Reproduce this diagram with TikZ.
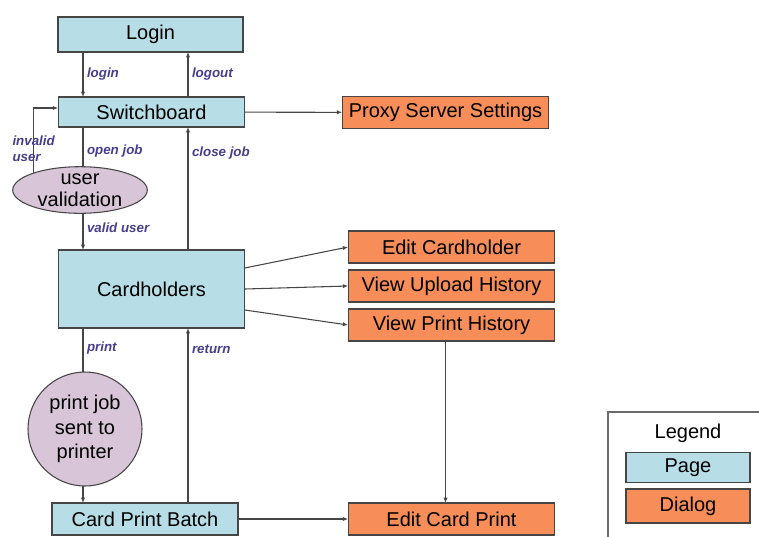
\documentclass[tikz,border=0pt]{standalone}
\usepackage{fontspec}
\setmainfont{Liberation Sans}
\usepackage{tikz}
\usetikzlibrary{positioning,shapes,arrows.meta}
\definecolor{pagefill}{RGB}{183,222,230}
\definecolor{dlgfill}{RGB}{247,141,88}
\definecolor{procfill}{RGB}{216,198,216}
\definecolor{lblcol}{RGB}{72,62,140}
\definecolor{edge}{RGB}{70,70,70}

\begin{document}
\begin{tikzpicture}[x=0.75pt,y=-0.75pt,outer sep=0pt,
  pageA/.style={
    draw=edge,
    line width=0.8pt,
    fill=pagefill,
    font={\fontsize{15pt}{18pt}\selectfont},
    align=center,
    minimum width=140pt,
    minimum height=24pt,
    inner sep=0pt,
    },
  dialogA/.style={pageA,fill=dlgfill,minimum width=155pt},
  procA/.style={pageA,ellipse,fill=procfill,minimum width=0pt,minimum height=0pt},
  legendA/.style={font={\fontsize{15pt}{18pt}\selectfont},minimum width=93pt},
  lbl/.style={font={\fontsize{10pt}{12pt}\selectfont\bfseries\itshape},text=lblcol,inner sep=3pt,align=left},
  arr/.style={draw=edge,line width=0.8pt,-{Latex[length=4pt,width=3.2pt]}},
  ln/.style={draw=edge,line width=0.8pt},
  ]

  \useasboundingbox (0,0) rectangle (759,536);

  \coordinate (lx) at (83,0);
  \coordinate (rx) at (188,0);

  \node[pageA, minimum width=138.75pt, minimum height=26.25pt] (login) at (150.5,34.5) {Login};
  \node[pageA, minimum height=22.5pt] (switch) at (151.5,112) {Switchboard};
  \node[dialogA] (proxy) at (445.5,112.5) {Proxy Server Settings};
  \coordinate (swin) at ([yshift=3pt]switch.west);

  \node[procA, inner xsep=4pt, inner ysep=0pt, font={\fontsize{15pt}{16.5pt}\selectfont}] (uval) at (80,190) {user\\validation};

  \node[pageA, minimum height=58.5pt] (chold) at (151.5,289) {Cardholders};
  \node[dialogA] (edch) at (451.5,247) {Edit Cardholder};
  \node[dialogA] (vupl) at (451.5,286) {View Upload History};
  \node[dialogA] (vprt) at (451.5,325) {View Print History};

  \node[procA, circle, minimum size=85.5pt, font={\fontsize{15pt}{18.5pt}\selectfont}] (pjob) at (85,429) {print job\\sent to\\printer};

  \node[pageA, minimum width=139.5pt] (batch) at (145,519) {Card Print Batch};
  \node[dialogA] (ecprt) at (451.5,519) {Edit Card Print};

  % legend
  \draw[draw=edge!80, line width=0.8pt] (608,412) rectangle (775,550);
  \node[legendA] (legend) at (688,433) {Legend};
  \node[pageA, legendA, minimum height=23pt] (lpage) at (688,467.5) {Page};
  \node[dialogA, legendA, minimum height=25.5pt] (ldlg) at (688,506) {Dialog};

  \draw[arr] (login.south -| lx) -- node[lbl, right] {login} (switch.north -| lx);
  \draw[arr] (switch.north -| rx) -- node[lbl, right] {logout} (login.south -| rx);
  \draw[arr] (switch) -- (proxy);

  \draw[ln] (switch.south -| lx) -- node[lbl, right, pos=.6] {open job} (uval.north -| lx);
  \draw[arr] (uval.160) -- node[lbl, pos=.38] {invalid\\user} (uval.160 |- swin) -- (swin);
  \draw[arr] (uval.south -| lx) -- node[lbl, right, pos=.4] {valid user} (chold.north -| lx);
  \draw[arr] (chold.north -| rx) -- node[lbl, right, pos=.79] {close job} (switch.south -| rx);

  \draw[arr] ([yshift=15.75pt]chold.east) -- (edch.west);
  \draw[arr] (chold.east) -- (vupl.west);
  \draw[arr] ([yshift=-15.75pt]chold.east) -- (vprt.west);

  \draw[ln] (chold.south -| lx) -- node[lbl, right, pos=.45] {print} (pjob.north -| lx);
  \draw[arr] (pjob.south -| lx) -- (batch.north -| lx);
  \draw[arr] (batch.north -| rx) -- node[lbl, right, pos=.88] {return} (chold.south -| rx);

  \draw[arr] ([xshift=-4.5pt]vprt.south) -- ([xshift=-4.5pt]ecprt.north);
  \draw[arr] (batch) -- (ecprt);

  \end{tikzpicture}
\end{document}
